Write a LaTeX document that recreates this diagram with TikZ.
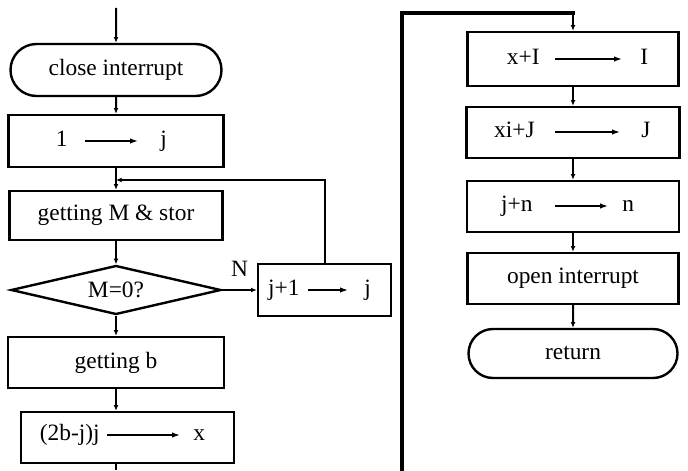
\documentclass[tikz,border=0pt]{standalone}
\usepackage{fontspec}
\setmainfont{Liberation Serif}
\usetikzlibrary{arrows.meta,calc,positioning,shapes.geometric,shapes.misc}
\newcommand{\flowfont}{\fontsize{11.7}{14}\selectfont}
\tikzset{
    flow box/.style={
        draw,
        line width=1.2pt,
        minimum width=106pt,
        minimum height=25.5pt,
        inner sep=0pt,
        font=\flowfont
    },
    flow term/.style={
        draw,
        rounded rectangle,
        line width=1.2pt,
        minimum width=105pt,
        minimum height=25pt,
        inner sep=0pt,
        font=\flowfont
    },
    flow test/.style={
        draw,
        diamond,
        shape aspect=4,
        line width=1.2pt,
        minimum width=105pt,
        minimum height=24.5pt,
        inner sep=0pt,
        font=\flowfont
    },
    flow text/.style={inner sep=0pt, text height=1.6ex, text depth=0.3ex, font=\flowfont},
    flow line/.style={-{Latex[length=2.8pt,width=2.4pt]}, line width=1pt},
    flow feed/.style={line width=1.6pt},
    assign arrow/.style={-{Latex[length=4pt,width=2.8pt]}, line width=0.8pt}
}

\begin{document}
\begin{tikzpicture}[x=0.5pt,y=-0.5pt]
    \useasboundingbox (0,0) rectangle (688,470);

    % left column
    \coordinate (start) at (116,8);
    \node[flow term, minimum width=105.5pt, minimum height=26pt] (close) at (116,70) {close interrupt};
    \node[flow box, minimum width=107.5pt, minimum height=26pt] (init) at (116,141) {};
    \node[flow box, minimum width=106.5pt, minimum height=24.5pt] (getm) at (116,215.5) {getting M \& stor};
    \node[flow test] (test) at (116,290) {M=0?};
    \node[flow box, minimum width=66.5pt, minimum height=26pt] (inc) at (324.5,290) {};
    \node[flow box, minimum width=108pt, minimum height=25.5pt] (getb) at (116,362.5) {getting b};
    \node[flow box, minimum width=106.5pt, minimum height=25.5pt] (calc) at (127.5,437.5) {};
    \coordinate (merge) at (116,180);
    \coordinate (leftend) at (116,470);

    % assignments inside the boxes
    \node[flow text, anchor=east] (initl) at (68,141) {1};
    \node[flow text, anchor=west] (initr) at (160,141) {j};
    \draw[assign arrow, shorten <=8.5pt, shorten >=11pt] (initl.east) -- (initr.west);

    \node[flow text, anchor=east] (incl) at (300,290) {j+1};
    \node[flow text, anchor=west] (incr) at (364,290) {j};
    \draw[assign arrow, shorten <=4pt, shorten >=8pt] (incl.east) -- (incr.west);

    \node[flow text, anchor=east] (calcl) at (100,435) {(2b-j)j};
    \node[flow text, anchor=west] (calcr) at (193,435) {x};
    \draw[assign arrow, shorten <=3.5pt, shorten >=6.5pt] (calcl.east) -- (calcr.west);

    % right column
    \coordinate (rightin) at (402,470);
    \coordinate (turn) at (573,13);
    \node[flow box, minimum width=105.5pt, minimum height=27pt] (addi) at (573,59) {};
    \node[flow box, minimum width=106.5pt, minimum height=25.5pt] (addj) at (573,132.5) {};
    \node[flow box, minimum width=106pt, minimum height=25.5pt] (addn) at (573,206.5) {};
    \node[flow box, minimum width=105.5pt, minimum height=25.5pt] (open) at (573,278.5) {open interrupt};
    \node[flow term, minimum width=104.5pt, minimum height=24.5pt] (ret) at (573,353.5) {return};

    \node[flow text, anchor=east] (addil) at (540,59) {x+I};
    \node[flow text, anchor=west] (addir) at (640,59) {I};
    \draw[assign arrow, shorten <=7.5pt, shorten >=9pt] (addil.east) -- (addir.west);

    \node[flow text, anchor=east] (addjl) at (535,132) {xi+J};
    \node[flow text, anchor=west] (addjr) at (641,132) {J};
    \draw[assign arrow, shorten <=10pt, shorten >=10.5pt] (addjl.east) -- (addjr.west);

    \node[flow text, anchor=east] (addnl) at (533,206) {j+n};
    \node[flow text, anchor=west] (addnr) at (622,206) {n};
    \draw[assign arrow, shorten <=11pt, shorten >=7pt] (addnl.east) -- (addnr.west);

    % connectors
    \draw[flow line] (start) -- (close);
    \draw[flow line] (close) -- (init);
    \draw[flow line] (init) -- (getm);
    \draw[flow line] (getm) -- (test);
    \draw[flow line] (test.east) -- node[above=3pt, font=\flowfont] (nlabel) {N} (inc.west);
    \draw[flow line] (inc.north) |- (merge);
    \draw[flow line] (test) -- (getb);
    \draw[flow line] (getb.south) -- (getb.south |- calc.north);
    \draw[line width=1pt] (calc.south -| leftend) -- (leftend);

    \draw[flow feed, line cap=rect] (rightin) |- (turn);
    \draw[flow line] (turn) -- (addi);
    \draw[flow line] (addi) -- (addj);
    \draw[flow line] (addj) -- (addn);
    \draw[flow line] (addn) -- (open);
    \draw[flow line] (open) -- (ret);
\end{tikzpicture}
\end{document}
